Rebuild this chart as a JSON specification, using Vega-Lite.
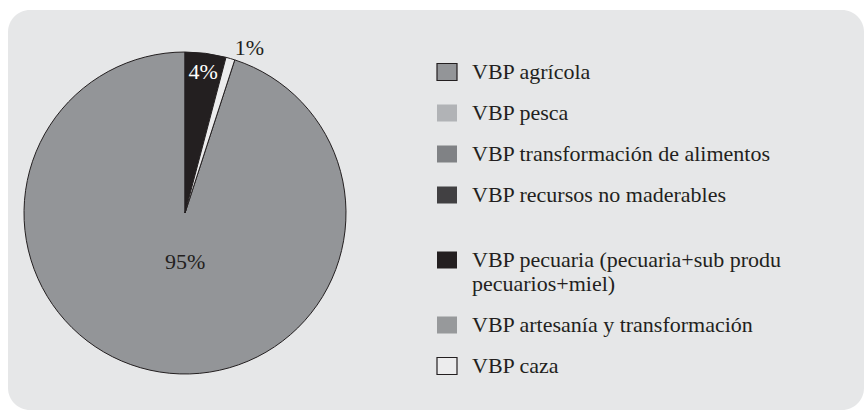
{
  "$schema": "https://vega.github.io/schema/vega-lite/v6.json",
  "width": 856,
  "height": 400,
  "autosize": {"type": "none"},
  "padding": {"left": 8, "top": 10, "right": 0, "bottom": 0},
  "background": "#ffffff",
  "config": {
    "view": {"stroke": null},
    "font": "Liberation Serif"
  },
  "data": {
    "values": [
      {"category": "VBP agrícola", "share": 0.95},
      {"category": "VBP pesca", "share": 0},
      {"category": "VBP transformación de alimentos", "share": 0},
      {"category": "VBP recursos no maderables", "share": 0},
      {"category": "VBP pecuaria (pecuaria+sub produ pecuarios+miel)", "share": 0.041},
      {"category": "VBP artesanía y transformación", "share": 0},
      {"category": "VBP caza", "share": 0.009}
    ]
  },
  "layer": [
    {
      "transform": [{"aggregate": [{"op": "count", "as": "n"}]}],
      "mark": {"type": "rect", "fill": "#e6e7e8", "cornerRadius": 22},
      "encoding": {}
    },
    {
      "transform": [{"filter": "datum.share > 0"}],
      "mark": {"type": "arc", "outerRadius": 161, "x": 177, "y": 203, "stroke": "#231f20", "strokeWidth": 1},
      "encoding": {
        "theta": {"field": "share", "type": "quantitative", "stack": true},
        "order": {"field": "category", "sort": "descending"},
        "color": {
          "field": "category",
          "type": "nominal",
          "scale": {
            "domain": [
              "VBP agrícola",
              "VBP pesca",
              "VBP transformación de alimentos",
              "VBP recursos no maderables",
              "VBP pecuaria (pecuaria+sub produ pecuarios+miel)",
              "VBP artesanía y transformación",
              "VBP caza"
            ],
            "range": ["#939598", "#b1b3b6", "#808285", "#414042", "#231f20", "#97999b", "#ececed"]
          },
          "legend": {
            "orient": "none",
            "legendX": 428,
            "legendY": 51,
            "title": null,
            "padding": 0,
            "labelFont": "Liberation Serif",
            "labelFontSize": 22,
            "labelColor": "#231f20",
            "labelLimit": 420,
            "labelOffset": 14,
            "rowPadding": 19,
            "symbolType": "M-1,-0.85H1V0.85H-1Z",
            "symbolSize": 400,
            "symbolStrokeWidth": 1.2,
            "symbolStrokeColor": {"expr": "datum.value == 'VBP agrícola' || datum.value == 'VBP caza' ? '#231f20' : 'transparent'"},
            "labelExpr": "datum.value == 'VBP pecuaria (pecuaria+sub produ pecuarios+miel)' ? ['VBP pecuaria (pecuaria+sub produ', 'pecuarios+miel)'] : datum.value == 'VBP recursos no maderables' ? ['VBP recursos no maderables', ''] : datum.label",
            "encode": {
              "labels": {"lineHeight": {"value": 27}}
            }
          }
        }
      }
    },
    {
      "transform": [{"filter": "datum.share > 0"}],
      "mark": {"type": "text", "radius": 142, "x": 177, "y": 203, "font": "Liberation Serif", "fontSize": 22, "fill": "#ffffff"},
      "encoding": {
        "theta": {"field": "share", "type": "quantitative", "stack": true},
        "order": {"field": "category", "sort": "descending"},
        "text": {
          "condition": {"test": "datum.category == 'VBP pecuaria (pecuaria+sub produ pecuarios+miel)'", "field": "share", "type": "quantitative", "format": ".0%"},
          "value": ""
        }
      }
    },
    {
      "transform": [{"filter": "datum.share > 0"}],
      "mark": {"type": "text", "radius": 175, "x": 177, "y": 203, "dx": 15, "dy": 3, "font": "Liberation Serif", "fontSize": 22, "fill": "#231f20"},
      "encoding": {
        "theta": {"field": "share", "type": "quantitative", "stack": true},
        "order": {"field": "category", "sort": "descending"},
        "text": {
          "condition": {"test": "datum.category == 'VBP caza'", "field": "share", "type": "quantitative", "format": ".0%"},
          "value": ""
        }
      }
    },
    {
      "transform": [{"filter": "datum.share > 0"}],
      "mark": {"type": "text", "radius": 50, "x": 177, "y": 203, "dx": 8, "font": "Liberation Serif", "fontSize": 22, "fill": "#231f20"},
      "encoding": {
        "theta": {"field": "share", "type": "quantitative", "stack": true},
        "order": {"field": "category", "sort": "descending"},
        "text": {
          "condition": {"test": "datum.category == 'VBP agrícola'", "field": "share", "type": "quantitative", "format": ".0%"},
          "value": ""
        }
      }
    }
  ]
}
